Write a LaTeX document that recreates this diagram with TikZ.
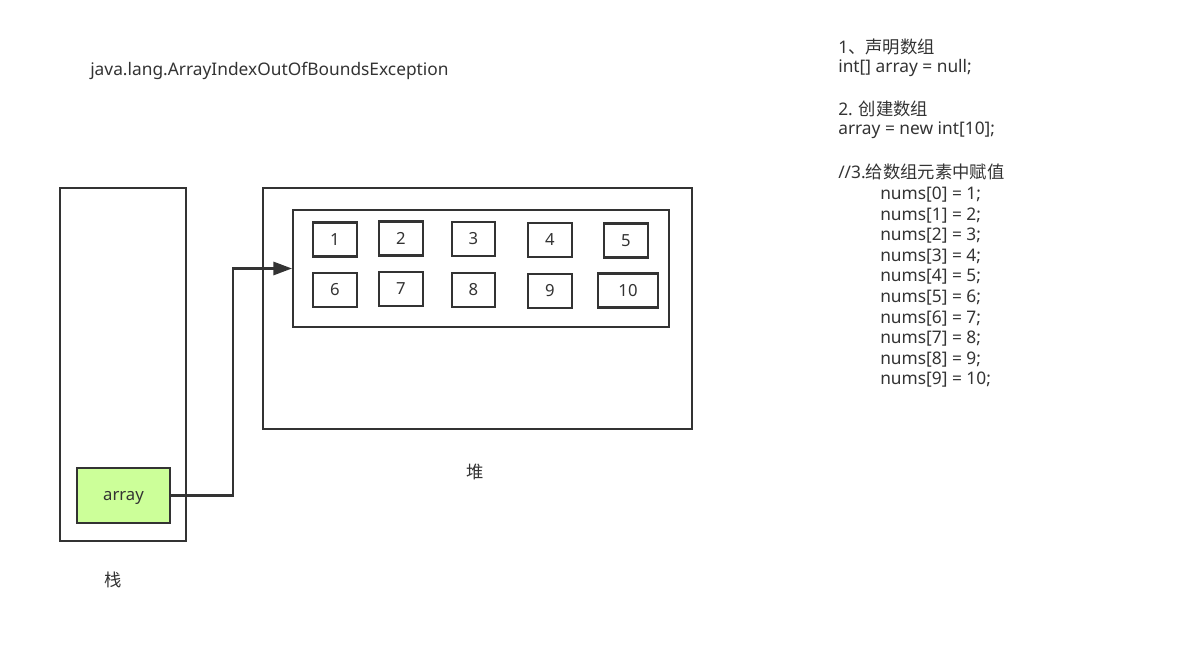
\documentclass[tikz,border=0pt]{standalone}
\usepackage{fontspec}
\setmainfont{Noto Sans}
\newfontfamily\cjk{Noto Sans CJK SC}
\usetikzlibrary{positioning}
\usetikzlibrary{arrows.meta}

\definecolor{linegray}{HTML}{333333}
\definecolor{arrgreen}{HTML}{CCFF99}

\tikzset{
    box/.style={draw=linegray, line width=1.6pt, inner sep=0pt},
    cell/.style={box, text=linegray, font=\fontsize{12.5}{15}\selectfont, minimum height=25.5pt},
    txt/.style={text=linegray, font=\fontsize{13}{15}\selectfont, inner sep=0pt},
    link/.style={draw=linegray, line width=1.6pt, -{Triangle[length=14pt,width=10pt]}},
}

\begin{document}
\begin{tikzpicture}[x=0.75pt,y=-0.75pt]
    \useasboundingbox (0,0) rectangle (1201,655);

    %draw exception name
    \node[txt, anchor=west] (exc) at (90,71) {java.lang.ArrayIndexOutOfBoundsException};

    %draw stack
    \node[box, minimum width=94.5pt, minimum height=264.75pt] (stack) at (123,364.5) {};
    \node[box, fill=arrgreen, text=linegray, font=\fontsize{12.5}{15}\selectfont, text depth=0pt,
          minimum width=69.75pt, minimum height=41.25pt] (arr) at (123.5,495.5) {array};
    \node[txt] (stacklbl) at (113,580) {\cjk 栈};

    %draw heap
    \node[box, minimum width=321.75pt, minimum height=180.75pt] (heap) at (477.5,308.5) {};
    \node[box, minimum width=282pt, minimum height=87.75pt] (inner) at (481,268.5) {};
    \node[txt] (heaplbl) at (475,472) {\cjk 堆};

    %draw cells
    \foreach \i/\x/\y/\w in {1/335/239.5/33, 2/401/238.5/33, 3/473.5/239/32.25, 4/550/240/33, 5/626/240.5/33,
                             6/335/290/33, 7/401/289/33, 8/473.5/290/32.25, 9/550/291/33, 10/628/290.5/45}
    \node[cell, minimum width=\w pt] (c\i) at (\x,\y) {\i};

    %draw reference
    \draw[link] (arr.east) -- ++(62,0) |- (inner.west);

    %draw code
    \node[txt, anchor=west] (s1) at (838,47) {1{\cjk 、声明数组}};
    \node[txt, anchor=west] (s2) at (838,68) {int[] array = null;};
    \node[txt, anchor=west] (s3) at (838,109) {2. {\cjk 创建数组}};
    \node[txt, anchor=west] (s4) at (838,130) {array = new int[10];};
    \node[txt, anchor=west] (s5) at (838,172) {//3.{\cjk 给数组元素中赋值}};
    \foreach \k in {0,...,9} {
        \pgfmathtruncatemacro{\v}{\k+1}
        \node[txt, anchor=west] (n\k) at (880,194.5+20.6*\k) {nums[\k] = \v;};
    }

\end{tikzpicture}
\end{document}
